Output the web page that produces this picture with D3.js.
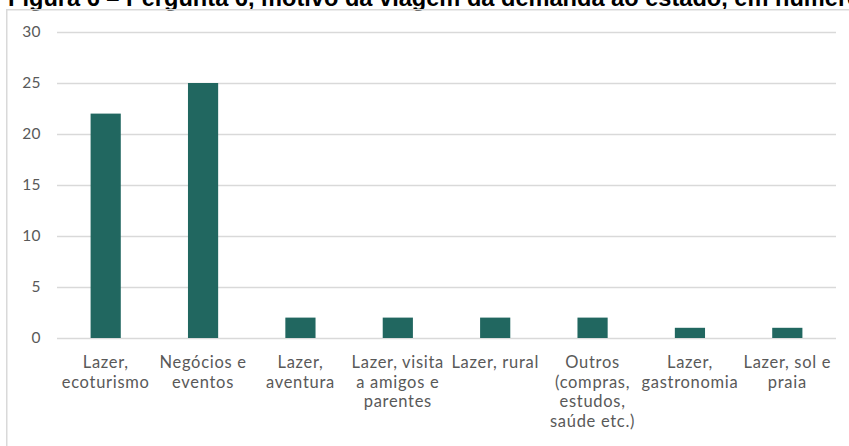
<!DOCTYPE html>
<html>
<head>
<meta charset="utf-8">
<script src="https://cdn.jsdelivr.net/npm/d3@7"></script>
<style>
  html, body { margin: 0; padding: 0; background: #fff; }
  svg { display: block; }
</style>
</head>
<body>
<svg id="chart" width="849" height="446"></svg>
<script>
// Motivo da viagem (número de respostas)
const categories = [
  "Lazer,\necoturismo",
  "Negócios e\neventos",
  "Lazer,\naventura",
  "Lazer, visita\na amigos e\nparentes",
  "Lazer, rural",
  "Outros\n(compras,\nestudos,\nsaúde etc.)",
  "Lazer,\ngastronomia",
  "Lazer, sol e\npraia"
];
const values = [22, 25, 2, 2, 2, 2, 1, 1];
const yTicks = [0, 5, 10, 15, 20, 25, 30];
const title = "Figura 6 – Pergunta 6, motivo da viagem da demanda ao estado, em número";

const svg = d3.select("#chart");
const W = 849, H = 446;
const plot = { left: 57, right: 836, top: 32, bottom: 338 };

// Title (partly above the visible area)
svg.append("text")
  .attr("x", 8).attr("y", 6)
  .attr("font-family", "'Liberation Sans', Arial, sans-serif")
  .attr("font-weight", "bold")
  .attr("font-size", 23.6)
  .attr("fill", "#000")
  .text(title);

// Chart frame
svg.append("rect")
  .attr("x", 6.75).attr("y", 9.75)
  .attr("width", W + 10).attr("height", H + 10)
  .attr("fill", "none")
  .attr("stroke", "#d9d9d9")
  .attr("stroke-width", 1.5);

const x = d3.scaleBand()
  .domain(categories)
  .range([plot.left, plot.right])
  .paddingInner(0.69)
  .paddingOuter(0.345);

const y = d3.scaleLinear()
  .domain([0, 30])
  .range([plot.bottom, plot.top]);

// Horizontal gridlines + y labels via axis
const yAxis = d3.axisLeft(y)
  .tickValues(yTicks)
  .tickSize(-(plot.right - plot.left))
  .tickPadding(16)
  .tickFormat(d3.format("d"));

const gy = svg.append("g")
  .attr("transform", `translate(${plot.left},0)`)
  .call(yAxis);
gy.select(".domain").remove();
gy.selectAll(".tick line")
  .attr("stroke", "#d9d9d9")
  .attr("stroke-width", 1.3);
gy.selectAll(".tick text")
  .attr("font-family", "Lato, 'Open Sans', sans-serif")
  .attr("font-size", 15.5)
  .attr("letter-spacing", 0.4)
  .attr("fill", "#595959");

// Bars
svg.append("g").selectAll("rect")
  .data(values)
  .join("rect")
  .attr("x", (d, i) => x(categories[i]))
  .attr("width", x.bandwidth())
  .attr("y", d => y(d))
  .attr("height", d => y(0) - y(d))
  .attr("fill", "#216760");

// Category labels via bottom axis, wrapped on line breaks
const xAxis = d3.axisBottom(x).tickSize(0).tickFormat("");
const gx = svg.append("g")
  .attr("transform", `translate(0,${plot.bottom})`)
  .call(xAxis);
gx.select(".domain").remove();
gx.selectAll(".tick").each(function(d) {
  const t = d3.select(this).append("text")
    .attr("text-anchor", "middle")
    .attr("font-family", "Lato, 'Open Sans', sans-serif")
    .attr("font-size", 16.5)
    .attr("letter-spacing", 0.7)
    .attr("fill", "#595959");
  d.split("\n").forEach((line, i) => {
    t.append("tspan")
      .attr("x", 0)
      .attr("y", 30 + i * 19.5)
      .text(line);
  });
});
</script>
</body>
</html>
